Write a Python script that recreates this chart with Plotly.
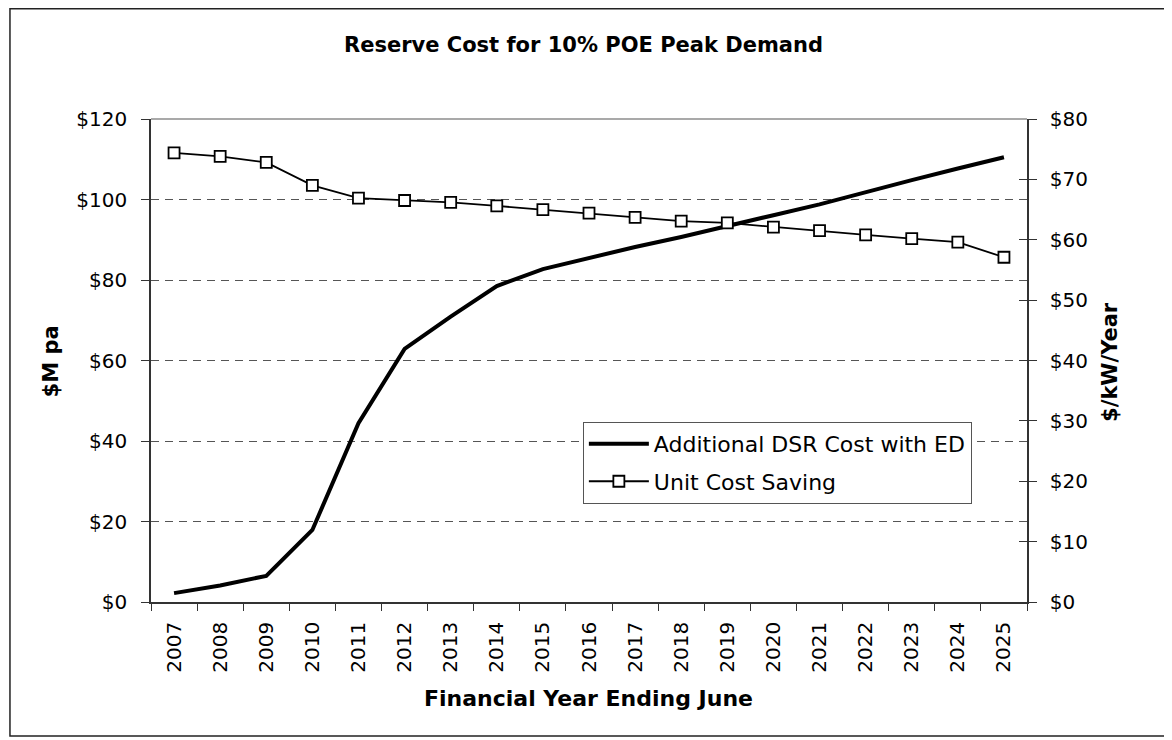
import plotly.graph_objects as go

years = [str(y) for y in range(2007, 2026)]
dsr_cost = [2.2, 4.1, 6.5, 17.9, 44.4, 62.9, 70.9, 78.5, 82.7, 85.5, 88.2, 90.7,
            93.5, 96.1, 98.8, 101.9, 104.8, 107.7, 110.5]
unit_saving = [74.4, 73.8, 72.8, 69.0, 66.9, 66.5, 66.2, 65.6, 65.0, 64.4, 63.7,
               63.1, 62.8, 62.1, 61.5, 60.8, 60.2, 59.6, 57.1]

title_text = "Reserve Cost for 10% POE Peak Demand"
x_title = "Financial Year Ending June"
y_left_title = "$M pa"
y_right_title = "$/kW/Year"
legend_names = ["Additional DSR Cost with ED", "Unit Cost Saving"]

FONT = "DejaVu Sans, Liberation Sans, Arial, sans-serif"
AX = "#333333"

fig = go.Figure()
fig.add_trace(go.Scatter(
    x=years, y=dsr_cost, name=legend_names[0], mode="lines",
    line=dict(color="black", width=4), yaxis="y", legendgroup="a"))
fig.add_trace(go.Scatter(
    x=years, y=unit_saving, name=legend_names[1], mode="lines+markers",
    line=dict(color="black", width=1.8),
    marker=dict(symbol="square", size=11, color="white",
                line=dict(color="black", width=1.8)),
    yaxis="y2", legendgroup="b"))
# helper axis for the crossing ticks on the right axis
fig.add_trace(go.Scatter(x=[], y=[], yaxis="y3", showlegend=False, hoverinfo="skip"))

fig.update_layout(
    width=1164, height=732,
    margin=dict(l=143, r=145, t=111, b=138),
    paper_bgcolor="white", plot_bgcolor="white",
    font=dict(family=FONT, color="black", size=20),
    showlegend=True,
    legend=dict(x=0.493, y=0.373, xanchor="left", yanchor="top",
                bordercolor="#555555", borderwidth=1, bgcolor="white",
                font=dict(size=22), tracegroupgap=6, traceorder="grouped",
                itemwidth=60),
    xaxis=dict(type="category", range=[-0.5, 18.5], showline=True, linecolor=AX,
               linewidth=1.5, ticks="outside", tickson="boundaries", ticklen=7,
               tickcolor=AX, tickwidth=1.2, tickangle=-90, showgrid=False,
               ticklabelstandoff=10, tickfont=dict(size=20)),
    yaxis=dict(range=[0, 120], dtick=20, tickprefix="$", showline=True,
               linecolor=AX, linewidth=1.5, ticks="outside", ticklen=8,
               tickcolor=AX, tickwidth=1.2, showgrid=True, gridcolor="#555555",
               griddash="8px,6px", gridwidth=1, zeroline=False,
               ticklabelstandoff=10, tickfont=dict(size=20)),
    yaxis2=dict(range=[0, 80], dtick=10, tickprefix="$", overlaying="y",
                side="right", showline=True, linecolor=AX, linewidth=1.5,
                ticks="outside", ticklen=8, tickcolor=AX, tickwidth=1.2,
                showgrid=False, zeroline=False, ticklabelstandoff=9,
                tickfont=dict(size=20)),
    yaxis3=dict(range=[0, 80], dtick=10, overlaying="y", side="right",
                showline=False, ticks="inside", ticklen=8, tickcolor=AX,
                tickwidth=1.2, showticklabels=False, showgrid=False,
                zeroline=False),
    shapes=[
        dict(type="line", xref="paper", yref="paper", x0=0, x1=1, y0=1, y1=1,
             line=dict(color="#8c8c8c", width=1.5)),
        dict(type="rect", xref="paper", yref="paper", x0=-0.161, x1=1.161,
             y0=-0.2774, y1=1.2282, line=dict(color="#222222", width=1.5),
             fillcolor="rgba(0,0,0,0)", layer="below"),
    ],
    annotations=[
        dict(text="<b>" + title_text + "</b>", xref="paper", yref="paper",
             x=0.4936, y=1.153, xanchor="center", yanchor="middle",
             showarrow=False, font=dict(size=21)),
        dict(text="<b>" + x_title + "</b>", xref="paper", yref="paper",
             x=0.4994, y=-0.2008, xanchor="center", yanchor="middle",
             showarrow=False, font=dict(size=22)),
        dict(text="<b>" + y_left_title + "</b>", xref="paper", yref="paper",
             x=-0.1145, y=0.4975, xanchor="center", yanchor="middle",
             textangle=-90, showarrow=False, font=dict(size=21)),
        dict(text="<b>" + y_right_title + "</b>", xref="paper", yref="paper",
             x=1.0947, y=0.497, xanchor="center", yanchor="middle",
             textangle=-90, showarrow=False, font=dict(size=21)),
    ],
)

fig.write_html("out.html")
